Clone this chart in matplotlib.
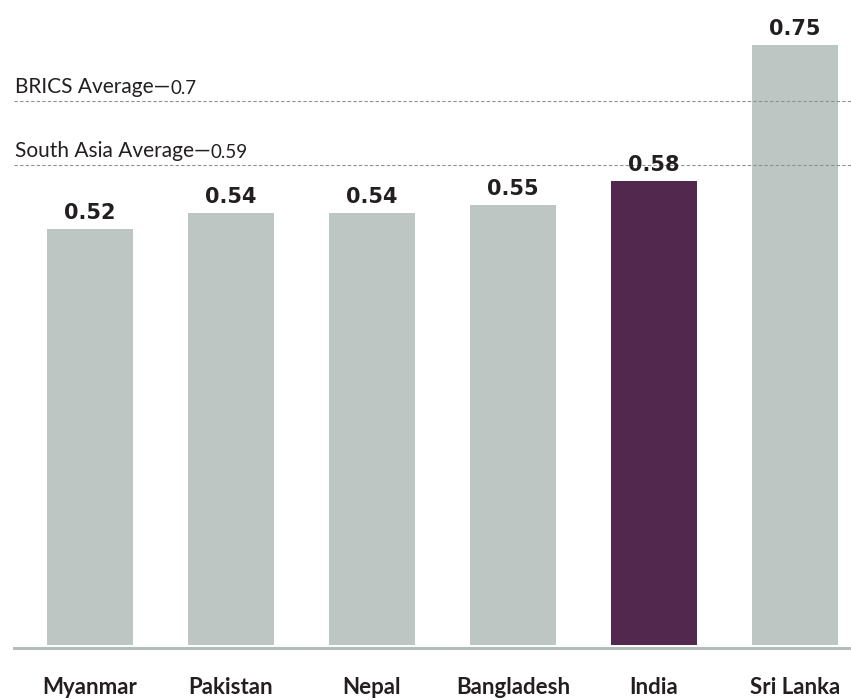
import matplotlib
matplotlib.use("Agg")
import matplotlib.pyplot as plt

# values
countries = ["Myanmar", "Pakistan", "Nepal", "Bangladesh", "India", "Sri Lanka"]
scores = [0.52, 0.54, 0.54, 0.55, 0.58, 0.75]
highlight = "India"

avg_names = ["BRICS Average", "South Asia Average"]
avg_values = [0.7, 0.59]
avg_levels = [0.68, 0.60]   # where the dotted lines sit in the picture

GREY = "#bdc6c3"
PLUM = "#52284f"
TEXT = "#231f20"

plt.rcParams["font.family"] = ["Lato", "DejaVu Sans"]

fig = plt.figure(figsize=(8.51, 7.0), dpi=100)
ax = fig.add_axes([14 / 851, 55 / 700, 837 / 851, 645 / 700])

# spine first: set_position resets the ticks
for side in ["left", "right", "top"]:
    ax.spines[side].set_visible(False)
ax.spines["bottom"].set_color("#b3bdba")
ax.spines["bottom"].set_linewidth(2.2)
ax.spines["bottom"].set_position(("outward", 2))

x = list(range(len(countries)))
colors = [PLUM if c == highlight else GREY for c in countries]
ax.bar(x, scores, width=0.61, color=colors, zorder=2)

for xi, v in zip(x, scores):
    ax.annotate(f"{v:.2f}", (xi, v), xytext=(0, 4), textcoords="offset points",
                ha="center", va="bottom", fontsize=15, fontweight="bold",
                family="DejaVu Sans", color=TEXT, zorder=5)

ytrans = ax.get_yaxis_transform()
for name, val, lvl in zip(avg_names, avg_values, avg_levels):
    ax.plot([0, 1], [lvl, lvl], transform=ytrans, color="#8c9194", lw=0.8,
            ls=(0, (3, 2)), zorder=3)
    t = ax.annotate(f"{name}\u2014", (0.001, lvl), xycoords=ytrans,
                    xytext=(0, 3), textcoords="offset points",
                    ha="left", va="bottom", fontsize=15, color=TEXT)
    ax.annotate(f"{val:g}", xy=(1, 0), xycoords=t, ha="left", va="bottom",
                fontsize=13.5, color=TEXT)

ax.set_xlim(-0.54, 5.40)
ax.set_ylim(0, 645 / 800)
ax.set_xticks(x)
ax.set_xticklabels(countries, fontsize=16, fontweight="bold", color=TEXT)
ax.tick_params(axis="x", length=0, pad=21)
ax.set_yticks([])

fig.savefig("out.png", dpi=100)
